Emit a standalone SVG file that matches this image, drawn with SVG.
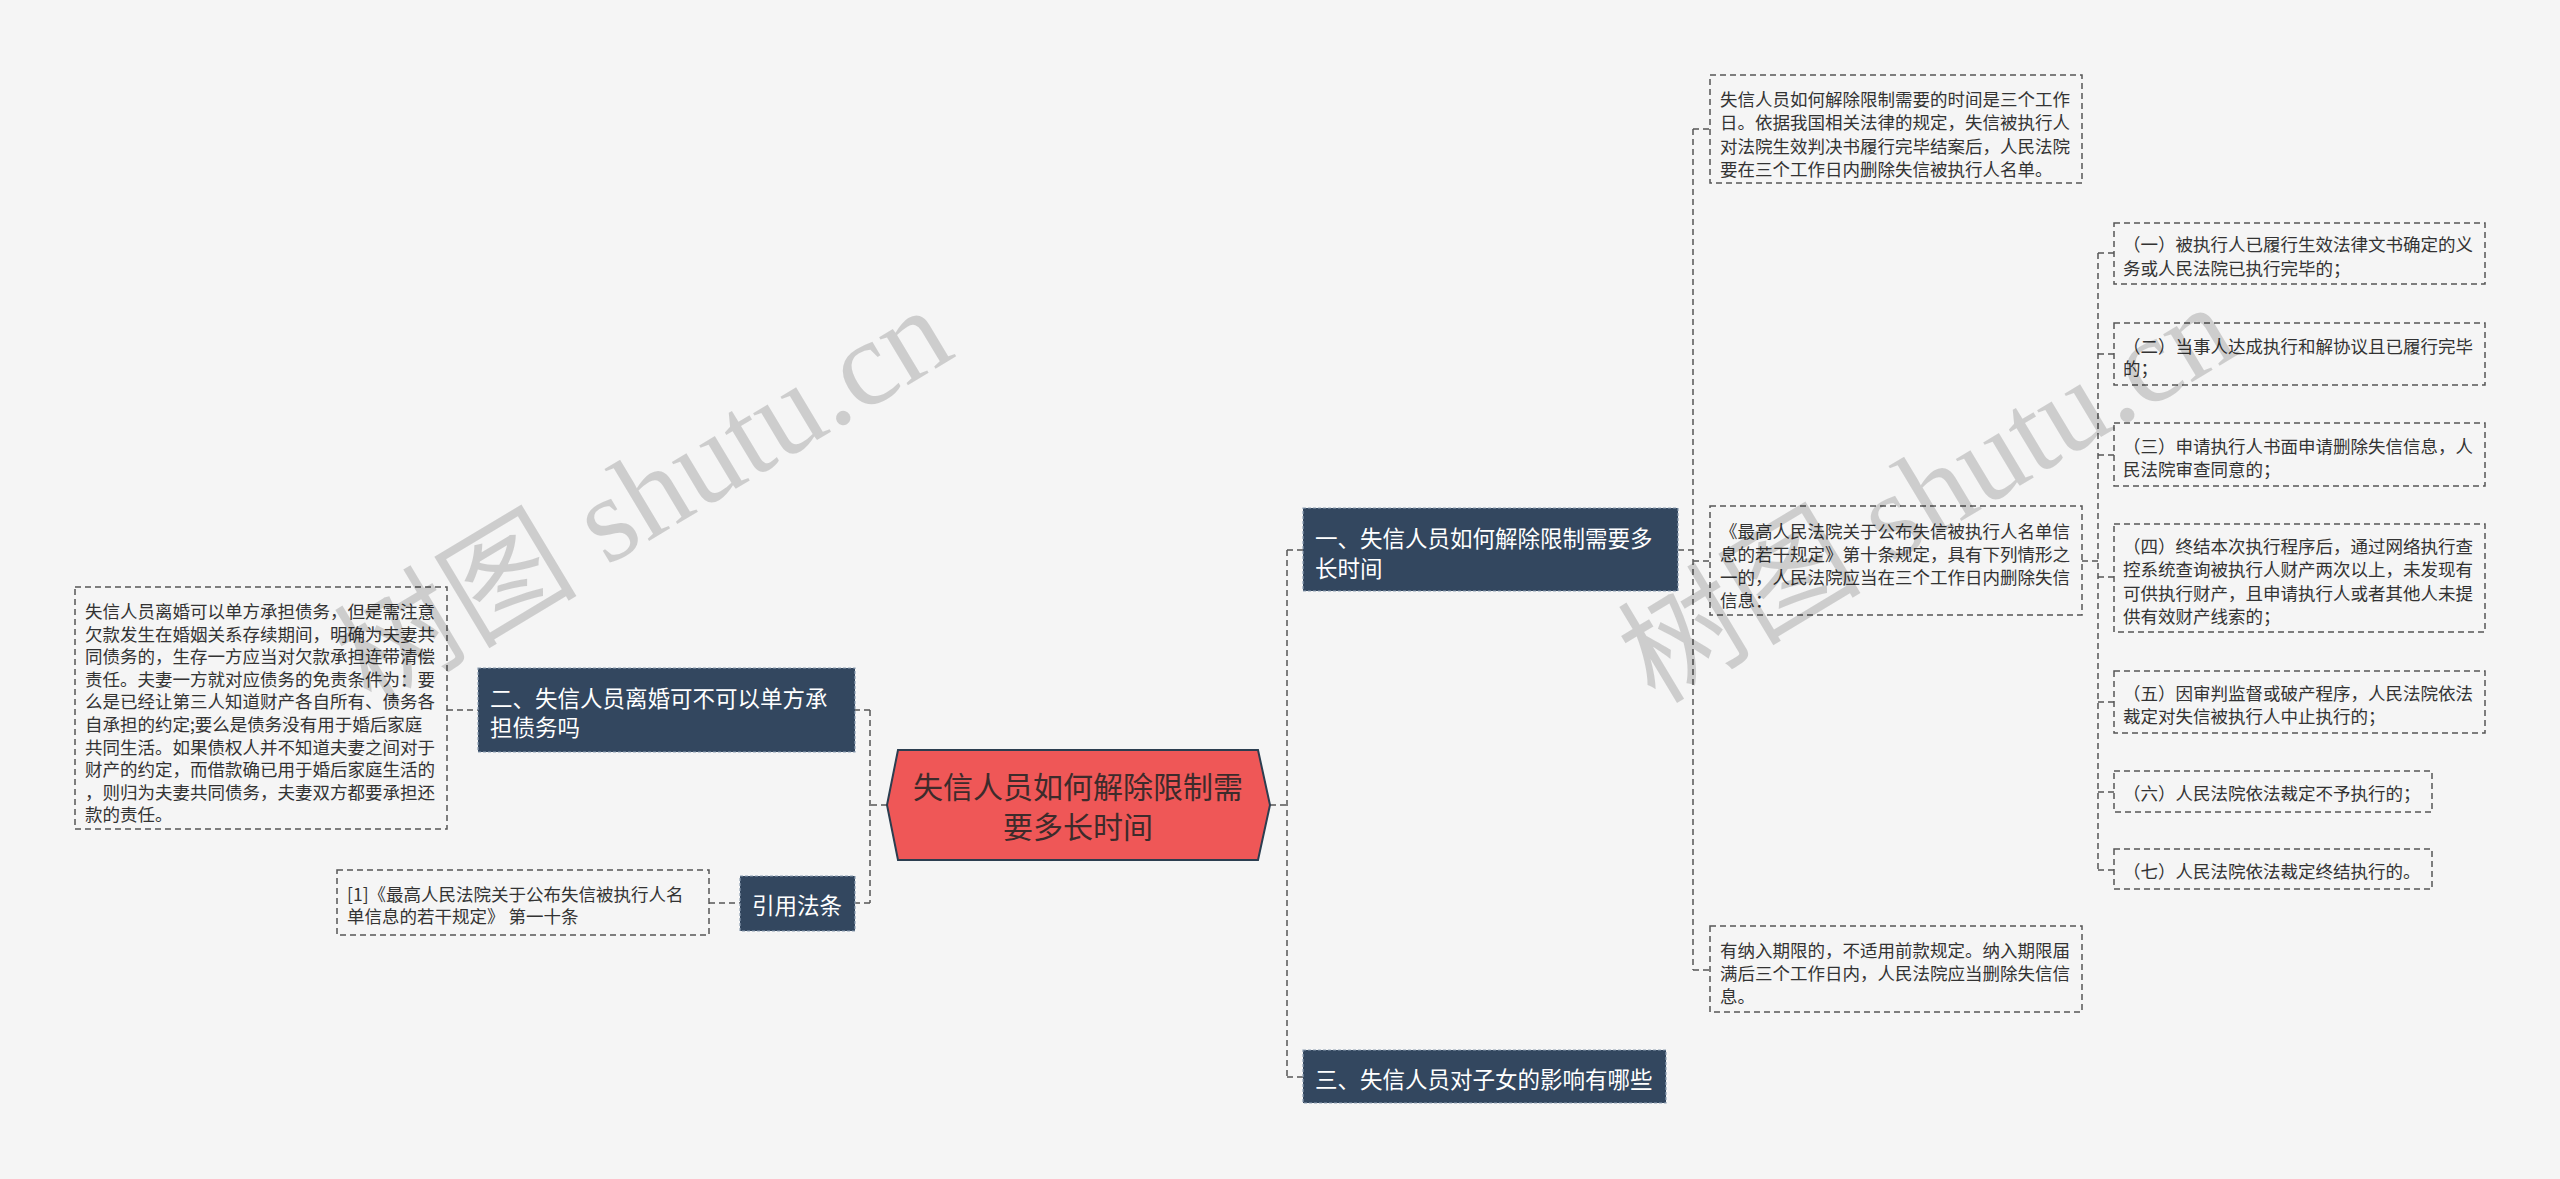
<svg xmlns="http://www.w3.org/2000/svg" width="2560" height="1179" viewBox="0 0 2560 1179">
<style>
.bg{fill:#f5f5f5}
.leaf{fill:none;stroke:#555;stroke-width:1.5;stroke-dasharray:6,4}
.lt{font-family:"Noto Sans CJK SC","Noto Sans",sans-serif;font-size:17.5px;fill:#333;dominant-baseline:central}
.topic{fill:#33475f;stroke:#8e9fb3;stroke-width:1.2;stroke-dasharray:3,2}
.tt{font-family:"Noto Sans CJK SC","Noto Sans",sans-serif;font-size:22.5px;fill:#fff;dominant-baseline:central}
.ct{font-family:"Noto Sans CJK SC","Noto Sans",sans-serif;font-size:30px;fill:#3d2b2b;dominant-baseline:central;text-anchor:middle}
.conn{fill:none;stroke:#555;stroke-width:1.5;stroke-dasharray:6,4}
.wm{font-family:"Liberation Serif","Noto Sans CJK SC",serif;font-size:122px;fill:#000;fill-opacity:0.16}
</style>
<rect class="bg" x="0" y="0" width="2560" height="1179"/>

<g id="connectors">
<path class="conn" d="M887,805 H870 M870,710 V903 M870,710 H855 M870,903 H855"/>
<path class="conn" d="M709,903 H740 M447,710 H478"/>
<path class="conn" d="M1270,805 H1287 M1287,550 V1077 M1287,550 H1303 M1287,1077 H1303"/>
<path class="conn" d="M1678,550 H1693 M1693,129 V970 M1693,129 H1710 M1693,561 H1710 M1693,970 H1710"/>
<path class="conn" d="M2082,561 H2098 M2098,253 V870 M2098,253 H2114 M2098,354 H2114 M2098,455 H2114 M2098,577 H2114 M2098,702 H2114 M2098,792 H2114 M2098,870 H2114"/>
</g>

<g id="central">
<polygon points="898,750 1258,750 1270,805 1258,860 898,860 887,805" fill="#ef5757" stroke="#2c3e50" stroke-width="2"/>
<text class="ct" x="1078" y="785">失信人员如何解除限制需</text>
<text class="ct" x="1078" y="825">要多长时间</text>
</g>

<g id="topic1">
<rect class="topic" x="1303" y="508" width="375" height="83"/>
<text class="tt" x="1315" y="537">一、失信人员如何解除限制需要多</text>
<text class="tt" x="1315" y="567">长时间</text>
</g>
<g id="topic2">
<rect class="topic" x="478" y="668" width="377" height="84"/>
<text class="tt" x="490" y="697">二、失信人员离婚可不可以单方承</text>
<text class="tt" x="490" y="726">担债务吗</text>
</g>
<g id="topic3">
<rect class="topic" x="1303" y="1050" width="363" height="53"/>
<text class="tt" x="1315" y="1078">三、失信人员对子女的影响有哪些</text>
</g>
<g id="topic4">
<rect class="topic" x="740" y="876" width="115" height="55"/>
<text class="tt" x="752" y="904">引用法条</text>
</g>

<g id="leaf-divorce">
<rect class="leaf" x="75" y="587" width="372" height="242"/>
<text class="lt" x="85" y="610">失信人员离婚可以单方承担债务，但是需注意</text>
<text class="lt" x="85" y="633">欠款发生在婚姻关系存续期间，明确为夫妻共</text>
<text class="lt" x="85" y="655">同债务的，生存一方应当对欠款承担连带清偿</text>
<text class="lt" x="85" y="678">责任。夫妻一方就对应债务的免责条件为：要</text>
<text class="lt" x="85" y="700">么是已经让第三人知道财产各自所有、债务各</text>
<text class="lt" x="85" y="723">自承担的约定;要么是债务没有用于婚后家庭</text>
<text class="lt" x="85" y="746">共同生活。如果债权人并不知道夫妻之间对于</text>
<text class="lt" x="85" y="768">财产的约定，而借款确已用于婚后家庭生活的</text>
<text class="lt" x="85" y="791">，则归为夫妻共同债务，夫妻双方都要承担还</text>
<text class="lt" x="85" y="813">款的责任。</text>
</g>

<g id="leaf-cite">
<rect class="leaf" x="337" y="870" width="372" height="65"/>
<text class="lt" x="347" y="893">[1]《最高人民法院关于公布失信被执行人名</text>
<text class="lt" x="347" y="915">单信息的若干规定》 第一十条</text>
</g>

<g id="leaf-a">
<rect class="leaf" x="1710" y="75" width="372" height="108"/>
<text class="lt" x="1720" y="98">失信人员如何解除限制需要的时间是三个工作</text>
<text class="lt" x="1720" y="121">日。依据我国相关法律的规定，失信被执行人</text>
<text class="lt" x="1720" y="145">对法院生效判决书履行完毕结案后，人民法院</text>
<text class="lt" x="1720" y="168">要在三个工作日内删除失信被执行人名单。</text>
</g>

<g id="leaf-b">
<rect class="leaf" x="1710" y="506" width="372" height="109"/>
<text class="lt" x="1720" y="530">《最高人民法院关于公布失信被执行人名单信</text>
<text class="lt" x="1720" y="553">息的若干规定》第十条规定，具有下列情形之</text>
<text class="lt" x="1720" y="576">一的，人民法院应当在三个工作日内删除失信</text>
<text class="lt" x="1720" y="599">信息：</text>
</g>

<g id="leaf-c">
<rect class="leaf" x="1710" y="926" width="372" height="86"/>
<text class="lt" x="1720" y="949">有纳入期限的，不适用前款规定。纳入期限届</text>
<text class="lt" x="1720" y="972">满后三个工作日内，人民法院应当删除失信信</text>
<text class="lt" x="1720" y="995">息。</text>
</g>

<g id="sub1">
<rect class="leaf" x="2114" y="223" width="371" height="61"/>
<text class="lt" x="2123" y="243">（一）被执行人已履行生效法律文书确定的义</text>
<text class="lt" x="2123" y="267">务或人民法院已执行完毕的；</text>
</g>
<g id="sub2">
<rect class="leaf" x="2114" y="323" width="371" height="62"/>
<text class="lt" x="2123" y="345">（二）当事人达成执行和解协议且已履行完毕</text>
<text class="lt" x="2123" y="367">的；</text>
</g>
<g id="sub3">
<rect class="leaf" x="2114" y="423" width="371" height="63"/>
<text class="lt" x="2123" y="445">（三）申请执行人书面申请删除失信信息，人</text>
<text class="lt" x="2123" y="468">民法院审查同意的；</text>
</g>
<g id="sub4">
<rect class="leaf" x="2114" y="524" width="371" height="108"/>
<text class="lt" x="2123" y="545">（四）终结本次执行程序后，通过网络执行查</text>
<text class="lt" x="2123" y="568">控系统查询被执行人财产两次以上，未发现有</text>
<text class="lt" x="2123" y="592">可供执行财产，且申请执行人或者其他人未提</text>
<text class="lt" x="2123" y="615">供有效财产线索的；</text>
</g>
<g id="sub5">
<rect class="leaf" x="2114" y="671" width="371" height="62"/>
<text class="lt" x="2123" y="692">（五）因审判监督或破产程序，人民法院依法</text>
<text class="lt" x="2123" y="715">裁定对失信被执行人中止执行的；</text>
</g>
<g id="sub6">
<rect class="leaf" x="2114" y="771" width="318" height="41"/>
<text class="lt" x="2123" y="792">（六）人民法院依法裁定不予执行的；</text>
</g>
<g id="sub7">
<rect class="leaf" x="2114" y="849" width="318" height="40"/>
<text class="lt" x="2123" y="870">（七）人民法院依法裁定终结执行的。</text>
</g>

<g id="watermark">
<text class="wm" transform="translate(371,708) rotate(-31)">树图 shutu.cn</text>
<text class="wm" transform="translate(1655,705) rotate(-31)">树图 shutu.cn</text>
</g>
</svg>
